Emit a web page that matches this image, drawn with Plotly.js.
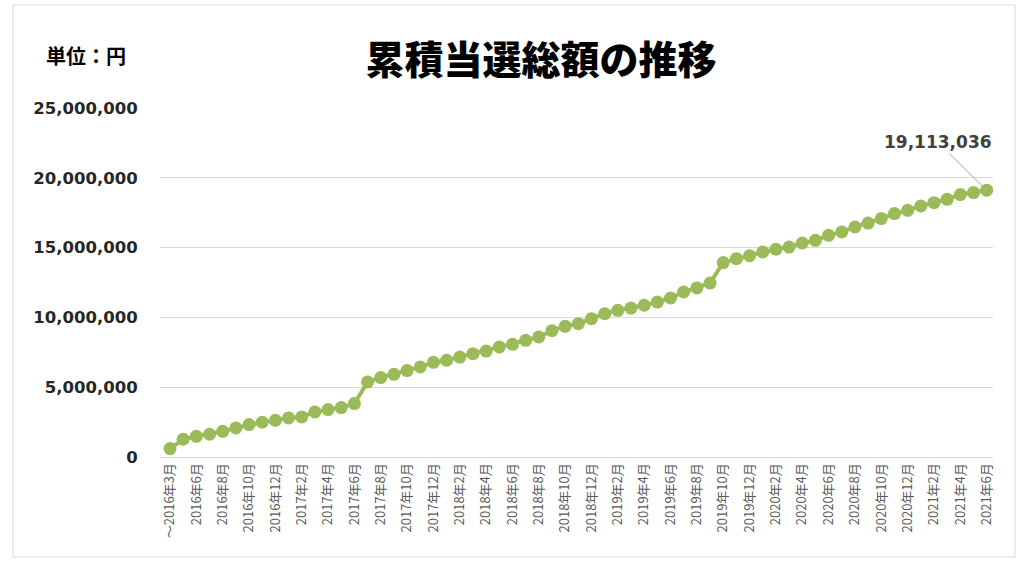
<!DOCTYPE html>
<html>
<head>
<meta charset="utf-8">
<script src="https://cdn.plot.ly/plotly-3.0.1.min.js"></script>
<style>html,body{margin:0;padding:0;background:#fff;}#chart{width:1024px;height:565px;}</style>
</head>
<body>
<div id="chart"></div>
<script>
const categories = [
  "～2016年3月","2016年5月","2016年6月","2016年7月","2016年8月","2016年9月","2016年10月","2016年11月","2016年12月",
  "2017年1月","2017年2月","2017年3月","2017年4月","2017年5月","2017年6月","2017年7月","2017年8月","2017年9月","2017年10月","2017年11月","2017年12月",
  "2018年1月","2018年2月","2018年3月","2018年4月","2018年5月","2018年6月","2018年7月","2018年8月","2018年9月","2018年10月","2018年11月","2018年12月",
  "2019年1月","2019年2月","2019年3月","2019年4月","2019年5月","2019年6月","2019年7月","2019年8月","2019年9月","2019年10月","2019年11月","2019年12月",
  "2020年1月","2020年2月","2020年3月","2020年4月","2020年5月","2020年6月","2020年7月","2020年8月","2020年9月","2020年10月","2020年11月","2020年12月",
  "2021年1月","2021年2月","2021年3月","2021年4月","2021年5月","2021年6月"
];
const totals = [
  600000, 1270000, 1480000, 1630000, 1840000, 2080000, 2320000, 2490000, 2630000,
  2800000, 2870000, 3230000, 3400000, 3540000, 3830000, 5380000, 5690000, 5920000, 6190000, 6450000, 6780000,
  6930000, 7160000, 7400000, 7590000, 7880000, 8070000, 8360000, 8600000, 9050000, 9360000, 9550000, 9910000,
  10270000, 10510000, 10670000, 10870000, 11100000, 11390000, 11820000, 12110000, 12460000, 13930000, 14210000, 14420000,
  14690000, 14880000, 15040000, 15330000, 15520000, 15880000, 16120000, 16480000, 16760000, 17080000, 17440000, 17670000,
  17980000, 18220000, 18460000, 18800000, 18940000, 19113036
];
const yTicks = [0, 5000000, 10000000, 15000000, 20000000, 25000000];
const yTickText = ["0", "5,000,000", "10,000,000", "15,000,000", "20,000,000", "25,000,000"];
const chartTitle = "累積当選総額の推移";
const unitLabel = "単位：円";
const lastLabel = "19,113,036";

const xTickVals = categories.filter((c, i) => i % 2 === 0);

const trace = {
  type: "scatter",
  mode: "lines+markers",
  x: categories,
  y: totals,
  line: {color: "#9BBB59", width: 4},
  marker: {color: "#9BBB59", size: 13},
  hoverinfo: "x+y"
};

const layout = {
  width: 1024, height: 565,
  margin: {l: 160, r: 31, t: 108, b: 108},
  paper_bgcolor: "#ffffff", plot_bgcolor: "#ffffff",
  showlegend: false,
  title: {
    text: chartTitle,
    font: {family: "Noto Sans CJK JP", size: 39, color: "#000000", weight: 900},
    x: 541/1024, xref: "container", xanchor: "center",
    y: 1 - 60/565, yref: "container", yanchor: "middle"
  },
  xaxis: {
    type: "category",
    range: [-0.76, 62.48],
    tickmode: "array",
    tickvals: xTickVals,
    ticktext: xTickVals,
    tickangle: -90,
    tickfont: {family: "Noto Sans CJK JP", size: 13, color: "#595959"},
    showgrid: false,
    showline: true, linecolor: "#d9d9d9", linewidth: 1,
    ticks: "", zeroline: false
  },
  yaxis: {
    range: [0, 25000000],
    tickmode: "array",
    tickvals: yTicks,
    ticktext: yTickText,
    tickfont: {family: "DejaVu Sans", size: 16.5, color: "#262626", weight: "bold"},
    showgrid: true, gridcolor: "#d9d9d9", gridwidth: 1,
    zeroline: false, showline: false,
    ticks: "outside", ticklen: 18, tickcolor: "rgba(0,0,0,0)"
  },
  annotations: [
    {
      x: categories[categories.length - 1], y: totals[totals.length - 1],
      xref: "x", yref: "y",
      text: lastLabel,
      showarrow: true, arrowhead: 0, arrowwidth: 1, arrowcolor: "#a6a6a6",
      ax: -49, ay: -48,
      font: {family: "DejaVu Sans", size: 17, color: "#404040", weight: "bold"}
    },
    {
      x: (44 - 160) / 833, y: (457 - 55) / 349,
      xref: "paper", yref: "paper",
      xanchor: "left", yanchor: "middle",
      text: unitLabel, showarrow: false,
      font: {family: "Noto Sans CJK JP", size: 20, color: "#000000", weight: "bold"}
    }
  ],
  shapes: [
    {
      type: "rect", xref: "paper", yref: "paper",
      x0: (13 - 160) / 833, x1: (1015 - 160) / 833,
      y0: (457 - 557) / 349, y1: (457 - 5) / 349,
      line: {color: "#d9d9d9", width: 1}, fillcolor: "rgba(0,0,0,0)", layer: "below"
    }
  ]
};

Plotly.newPlot("chart", [trace], layout, {displayModeBar: false, staticPlot: true});
</script>
</body>
</html>
